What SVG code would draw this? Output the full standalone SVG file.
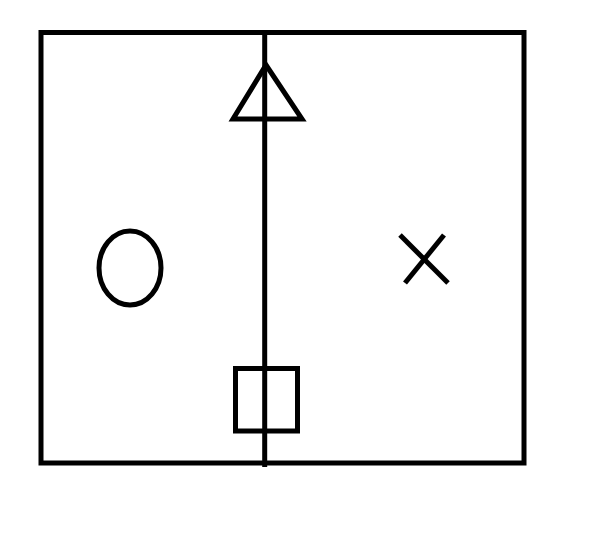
<svg xmlns="http://www.w3.org/2000/svg" width="607" height="540" viewBox="0 0 607 540">
<style>
.s{fill:none;stroke:#000;stroke-width:5}
</style>
<rect width="607" height="540" fill="#fff"/>
<g id="frame"><rect class="s" x="41" y="32.5" width="483" height="430.5"/></g>
<g id="connectors"><line class="s" x1="264.7" y1="32" x2="264.7" y2="467"/></g>
<g id="triangle"><polygon class="s" points="266,65 302,119 233,119" stroke-linejoin="miter"/></g>
<g id="circle"><ellipse class="s" cx="130" cy="268" rx="31" ry="37"/></g>
<g id="cross"><line class="s" x1="400" y1="235" x2="448" y2="283"/><line class="s" x1="444" y1="235" x2="405" y2="283"/></g>
<g id="square"><rect class="s" x="235.5" y="368.5" width="62" height="62.5"/></g>
</svg>
